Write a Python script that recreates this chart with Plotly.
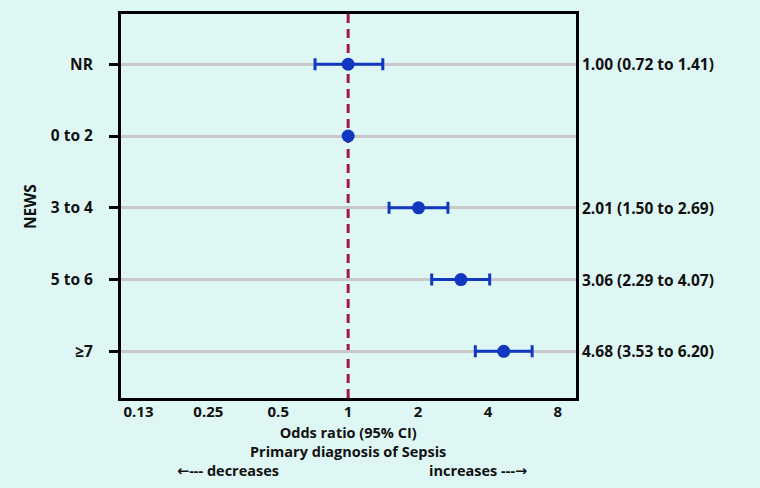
import plotly.graph_objects as go
import math

categories = ["NR", "0 to 2", "3 to 4", "5 to 6", "≥7"]
odds_ratio = [1.00, 1.00, 2.01, 3.06, 4.68]
ci_low = [0.72, None, 1.50, 2.29, 3.53]
ci_high = [1.41, None, 2.69, 4.07, 6.20]
x_tickvals = [0.125, 0.25, 0.5, 1, 2, 4, 8]
x_ticktext = ["0.13", "0.25", "0.5", "1", "2", "4", "8"]

BG = "#dff7f4"
BLUE = "#1038c0"
RED = "#a0184a"
FONT = "Open Sans"
FS = 15.5
FS_B = 14.5
TXT = "#111111"

idx = list(range(len(categories)))
ci_idx = [i for i in idx if ci_low[i] is not None]
ref_idx = [i for i in idx if ci_low[i] is None]

fig = go.Figure()
fig.add_trace(go.Scatter(
    x=[odds_ratio[i] for i in ci_idx],
    y=[i for i in ci_idx],
    mode="markers",
    marker=dict(color=BLUE, size=13),
    error_x=dict(
        type="data", symmetric=False,
        array=[ci_high[i] - odds_ratio[i] for i in ci_idx],
        arrayminus=[odds_ratio[i] - ci_low[i] for i in ci_idx],
        color=BLUE, thickness=3, width=6,
    ),
    showlegend=False, hoverinfo="skip",
))
fig.add_trace(go.Scatter(
    x=[odds_ratio[i] for i in ref_idx],
    y=[i for i in ref_idx],
    mode="markers",
    marker=dict(color=BLUE, size=13),
    showlegend=False, hoverinfo="skip",
))

fig.add_shape(type="line", xref="x", yref="paper", x0=1, x1=1, y0=0, y1=1,
              line=dict(color=RED, width=3, dash="9px,6px"), layer="below")

for i in ci_idx:
    fig.add_annotation(
        xref="paper", yref="y", x=1, y=i, xshift=4, xanchor="left",
        text=f"{odds_ratio[i]:.2f} ({ci_low[i]:.2f} to {ci_high[i]:.2f})",
        showarrow=False,
        font=dict(family=FONT, size=FS, color=TXT, weight="bold"),
    )

lo = math.log10(2 ** -3.25)
hi = math.log10(2 ** 3.26)

fig.update_layout(
    width=760, height=488,
    paper_bgcolor=BG, plot_bgcolor=BG,
    margin=dict(l=121, r=184, t=14, b=90),
    font=dict(family=FONT, size=FS, color=TXT, weight="bold"),
    xaxis=dict(
        type="log", range=[lo, hi],
        tickvals=x_tickvals, ticktext=x_ticktext,
        tickfont=dict(size=15),
        showgrid=False, zeroline=False, ticks="",
        showline=True, linecolor="black", linewidth=3, mirror=True,
        ticklabelstandoff=-2,
    ),
    yaxis=dict(
        range=[4.65, -0.7],
        tickvals=idx, ticktext=categories,
        showgrid=True, gridcolor="#c8c8c8", gridwidth=3, zeroline=False,
        ticks="outside", ticklen=9, tickwidth=3, tickcolor="black",
        ticklabelstandoff=13,
        showline=True, linecolor="black", linewidth=3, mirror=True,
    ),
)

PW = 455.0
def px(x):
    return (x - 121) / PW

def add_text(text, x, y_px, anchor="center", angle=0, size=FS):
    fig.add_annotation(xref="paper", yref="paper", x=px(x), y=(398 - y_px) / 384.0,
                       xanchor=anchor, yanchor="middle", textangle=angle,
                       text=text, showarrow=False,
                       font=dict(family=FONT, size=size, color=TXT, weight="bold"))

add_text("NEWS", 30, 207, angle=-90)
add_text("Odds ratio (95% CI)<br>Primary diagnosis of Sepsis", 348, 441.5, size=FS_B)
arrow_style = "font-family:'DejaVu Sans'"
add_text(f"<span style=\"{arrow_style}\">\u2190</span>--- decreases", 175, 470, anchor="left", size=FS_B)
add_text(f"increases ---<span style=\"{arrow_style}\">\u2192</span>", 529, 470, anchor="right", size=FS_B)

fig.write_html("out.html", post_script="document.body.style.margin='0';",
               config={"displayModeBar": False})
